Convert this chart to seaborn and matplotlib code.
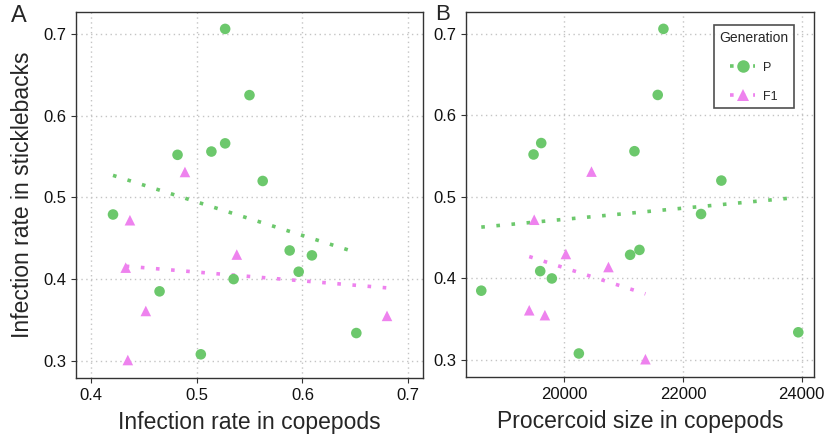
import matplotlib
matplotlib.use('Agg')
import matplotlib.pyplot as plt
import pandas as pd
import seaborn as sns
from matplotlib.lines import Line2D

# Parental generation (P)
p_copepod_rate = [0.527, 0.550, 0.527, 0.514, 0.482, 0.5625, 0.421, 0.588, 0.609, 0.5965, 0.535, 0.465, 0.651, 0.504]
p_procercoid = [21672, 21576, 19613, 21184, 19484, 22648, 22306, 21268, 21111, 19596, 19792, 18603, 23944, 20247]
p_stickle_rate = [0.706, 0.625, 0.566, 0.556, 0.552, 0.520, 0.479, 0.435, 0.429, 0.409, 0.400, 0.385, 0.334, 0.308]

# First offspring generation (F1)
f1_copepod_rate = [0.489, 0.437, 0.538, 0.433, 0.452, 0.680, 0.435]
f1_procercoid = [20460, 19495, 20028, 20746, 19411, 19675, 21369]
f1_stickle_rate = [0.531, 0.472, 0.430, 0.414, 0.361, 0.355, 0.301]

generations = ['P', 'F1']
colors = {'P': '#6CC86C', 'F1': '#EE82EE'}
markers = {'P': 'o', 'F1': '^'}

df = pd.concat([
    pd.DataFrame({'copepod': p_copepod_rate, 'size': p_procercoid,
                  'stickle': p_stickle_rate, 'Generation': 'P'}),
    pd.DataFrame({'copepod': f1_copepod_rate, 'size': f1_procercoid,
                  'stickle': f1_stickle_rate, 'Generation': 'F1'}),
], ignore_index=True)

sns.set_style('white')
plt.rcParams['font.family'] = ['Liberation Sans', 'DejaVu Sans']

fig = plt.figure(figsize=(8.25, 4.34), dpi=100)
ax_a = fig.add_axes([0.0921, 0.129, 0.4206, 0.843])
ax_b = fig.add_axes([0.5648, 0.131, 0.4218, 0.841])

dots = (0, (1, 3.2))


def draw_panel(ax, xcol):
    for g in generations:
        sub = df[df['Generation'] == g]
        sns.regplot(data=sub, x=xcol, y='stickle', ax=ax, scatter=False, ci=None,
                    truncate=True, color=colors[g],
                    line_kws={'linestyle': dots, 'linewidth': 2.6, 'dash_capstyle': 'butt'})
    sns.scatterplot(data=df, x=xcol, y='stickle', hue='Generation', style='Generation',
                    palette=colors, markers=markers, s=58, linewidth=0, ax=ax, legend=False,
                    zorder=3)
    ax.set_ylim(0.279, 0.7265)
    ax.set_yticks([0.3, 0.4, 0.5, 0.6, 0.7])
    ax.grid(True, color='#C4C4C4', linestyle=(0, (1, 2.5)), linewidth=1.0)
    ax.set_axisbelow(True)
    for sp in ax.spines.values():
        sp.set_color('#333333')
        sp.set_linewidth(1.0)
    ax.tick_params(axis='both', direction='out', length=3.5, width=0.8, color='#333333',
                   labelsize=12, labelcolor='#111111', bottom=True, left=True)


draw_panel(ax_a, 'copepod')
ax_a.set_xlim(0.386, 0.714)
ax_a.set_xticks([0.4, 0.5, 0.6, 0.7])
ax_a.set_xlabel('Infection rate in copepods', fontsize=16.5, labelpad=6)
ax_a.set_ylabel('Infection rate in sticklebacks', fontsize=16.5, labelpad=7)

draw_panel(ax_b, 'size')
ax_b.set_xlim(18345, 24208)
ax_b.set_xticks([20000, 22000, 24000])
ax_b.set_xlabel('Procercoid size in copepods', fontsize=16.5, labelpad=6)
ax_b.set_ylabel('')

fig.text(0.013, 0.962, 'A', fontsize=17, va='center')
fig.text(0.528, 0.966, 'B', fontsize=16, va='center')

handles = [Line2D([0], [0], color=colors[g], linestyle=(0, (1, 2.2)), linewidth=2.6,
                  marker=markers[g], markersize=9, markeredgewidth=0)
           for g in generations]
leg = ax_b.legend(handles, generations, title='Generation', loc='upper right',
                  bbox_to_anchor=(0.9425, 0.964), borderaxespad=0, frameon=True,
                  fancybox=False, handlelength=2.0, handletextpad=0.6, labelspacing=1.35,
                  borderpad=0.45, fontsize=9, title_fontsize=10)
leg.get_frame().set_edgecolor('#222222')
leg.get_frame().set_linewidth(1.2)

fig.savefig('out.png', dpi=100)
